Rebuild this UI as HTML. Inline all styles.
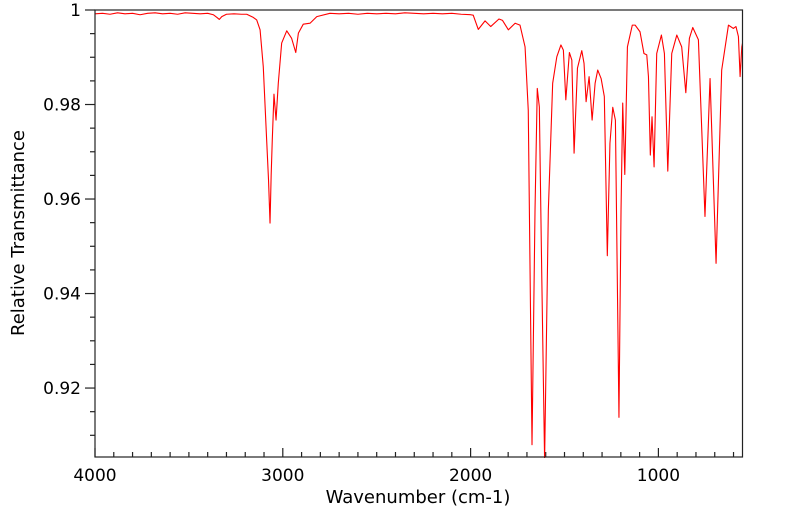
<!DOCTYPE html>
<html><head><meta charset="utf-8"><style>
html,body{margin:0;padding:0;background:#fff;}
svg{display:block;font-family:"DejaVu Sans","Liberation Sans",sans-serif;}
</style></head><body>
<svg id="chart" width="799" height="516" viewBox="0 0 799 516" xmlns="http://www.w3.org/2000/svg">
<defs><clipPath id="plotclip"><rect x="95" y="10" width="647.5" height="448"></rect></clipPath></defs>
<g id="axes"></g>
<path id="spectrum" fill="none" stroke="#ff0000" stroke-width="1.1" stroke-linejoin="round" clip-path="url(#plotclip)"></path>
<rect x="95" y="10" width="647.5" height="447" fill="none" stroke="#222" stroke-width="1.2"></rect>
<text x="418" y="503" font-size="18" text-anchor="middle" fill="#000">Wavenumber (cm-1)</text>
<text x="0" y="0" font-size="18" text-anchor="middle" fill="#000" transform="translate(24,233) rotate(-90)">Relative Transmittance</text>
</svg>
<script>
const wavenumbers = [4000,3960,3920,3880,3840,3800,3760,3720,3680,3640,3600,3560,3520,3480,3440,3400,3370,3350,3338,3325,3300,3260,3220,3192,3160,3139,3121,3104,3086,3076,3068,3062,3056,3047,3036,3024,3006,2979,2953,2931,2917,2891,2855,2819,2749,2700,2650,2600,2550,2500,2450,2400,2350,2300,2250,2200,2150,2100,2050,2000,1986,1959,1923,1893,1849,1830,1799,1763,1737,1710,1693,1673,1657,1645,1634,1621,1606,1586,1563,1541,1519,1506,1493,1474,1461,1449,1431,1408,1396,1385,1369,1353,1337,1323,1305,1288,1272,1258,1243,1229,1210,1199,1190,1179,1165,1139,1124,1098,1077,1062,1053,1043,1034,1023,1009,984,968,950,929,902,876,854,835,817,787,752,725,693,663,627,601,587,574,565,556,552];
const transmittance = [0.9992,0.9993,0.9991,0.9994,0.9992,0.9993,0.9990,0.9993,0.9994,0.9992,0.9993,0.9991,0.9994,0.9993,0.9992,0.9993,0.9990,0.9984,0.9980,0.9986,0.9991,0.9992,0.9991,0.9991,0.9985,0.9979,0.9958,0.9880,0.9725,0.9640,0.9549,0.9650,0.9725,0.9822,0.9767,0.9845,0.9930,0.9956,0.9940,0.9910,0.9951,0.9970,0.9972,0.9986,0.9993,0.9992,0.9993,0.9991,0.9993,0.9992,0.9993,0.9992,0.9994,0.9993,0.9992,0.9993,0.9992,0.9993,0.9991,0.9990,0.9989,0.9959,0.9977,0.9965,0.9981,0.9978,0.9958,0.9972,0.9968,0.9922,0.9788,0.9080,0.9577,0.9834,0.9795,0.9436,0.9000,0.9577,0.9845,0.9901,0.9926,0.9915,0.9810,0.9910,0.9894,0.9697,0.9877,0.9914,0.9887,0.9806,0.9859,0.9767,0.9845,0.9873,0.9855,0.9817,0.9480,0.9718,0.9794,0.9767,0.9138,0.9577,0.9803,0.9652,0.9922,0.9968,0.9968,0.9954,0.9908,0.9905,0.9859,0.9693,0.9774,0.9668,0.9908,0.9947,0.9908,0.9659,0.9908,0.9947,0.9922,0.9825,0.9940,0.9963,0.9937,0.9563,0.9855,0.9464,0.9873,0.9968,0.9961,0.9965,0.9944,0.9859,0.9922,0.9930];
const xTickValues = [4000,3000,2000,1000];
const xTickLabels = ["4000","3000","2000","1000"];
const yTickValues = [1,0.98,0.96,0.94,0.92];
const yTickLabels = ["1","0.98","0.96","0.94","0.92"];

const X0=95, X1=742.5, Y0=10, Y1=457;
const W_MAX=4000, W_MIN=552.2, T_MAX=1, T_MIN=0.90541;
function xs(w){return X0+(W_MAX-w)/(W_MAX-W_MIN)*(X1-X0);}
function ys(t){return Y0+(T_MAX-t)/(T_MAX-T_MIN)*(Y1-Y0);}
const NS="http://www.w3.org/2000/svg";
const axes=document.getElementById('axes');
function mk(tag,attrs){const e=document.createElementNS(NS,tag);for(const k in attrs)e.setAttribute(k,attrs[k]);axes.appendChild(e);return e;}

for(let w=4000; w>=W_MIN; w-=100){
  const major = w%1000===0;
  const x=xs(w);
  const t=mk('line',{x1:x,x2:x,y1:Y1,y2:Y1-(major?9:5),stroke:'#222','stroke-width':1.2});
  
  
}
xTickValues.forEach((v,i)=>{
  const t=mk('text',{x:xs(v),y:481,'font-size':17,'text-anchor':'middle',fill:'#000'});
  t.textContent=xTickLabels[i];
  
  
});
for(let k=0;;k++){
  const v=1-k*0.005; if(v<T_MIN) break;
  const major = k%4===0;
  const y=ys(v);
  const t=mk('line',{x1:X0,x2:X0-(major?10:5),y1:y,y2:y,stroke:'#222','stroke-width':1.2});
  
  
}
yTickValues.forEach((v,i)=>{
  const t=mk('text',{x:81,y:ys(v)+6,'font-size':17,'text-anchor':'end',fill:'#000'});
  t.textContent=yTickLabels[i];
  
  
});
let d='';
wavenumbers.forEach((w,i)=>{
  const y=Math.min(ys(transmittance[i]), Y1+3);
  d+=(i?'L':'M')+xs(w).toFixed(2)+','+y.toFixed(2);
});
document.getElementById('spectrum').setAttribute('d',d);
</script>
</body></html>
